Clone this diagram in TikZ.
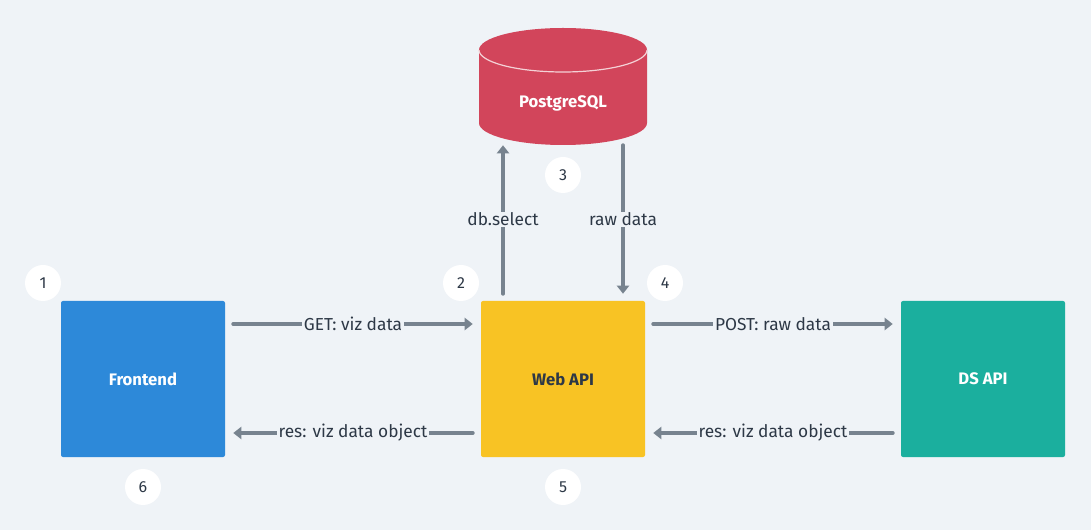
\documentclass[tikz,border=0pt]{standalone}
\usepackage{fontspec}
\setmainfont{Fira Sans}
\usepackage{tikz}
\usetikzlibrary{arrows.meta,positioning,calc}

\definecolor{bgcol}{HTML}{EFF3F7}
\definecolor{frontcol}{HTML}{2D89D9}
\definecolor{webcol}{HTML}{F8C324}
\definecolor{dscol}{HTML}{1BAF9E}
\definecolor{pgcol}{HTML}{D2455B}
\definecolor{arrcol}{HTML}{77838F}
\definecolor{txtcol}{HTML}{2D3846}

\tikzset{
    service/.style={rectangle, rounded corners=1.5pt, minimum width=123pt, minimum height=117pt,
        inner sep=0pt, font=\fontsize{12.5}{15}\selectfont\bfseries},
    stepnum/.style={circle, fill=white, minimum size=27pt, inner sep=0pt,
        text=txtcol, font=\fontsize{12}{14}\selectfont},
    flow/.style={draw=arrcol, line width=3pt, line cap=round,
        -{Triangle[length=6pt,width=9pt]}},
    flowlabel/.style={fill=bgcol, inner xsep=1.5pt, inner ysep=1pt, text=txtcol,
        font=\fontsize{13}{15}\selectfont},
}

\begin{document}
\begin{tikzpicture}[x=0.75pt,y=-0.75pt]
    \fill[bgcol] (0,0) rectangle (1091,530);
    \useasboundingbox (0,0) rectangle (1091,530);

    % services
    \node[service, fill=frontcol, text=white] (front) at (143,379) {Frontend};
    \node[service, fill=webcol, text=txtcol] (web) at (563,379) {Web API};
    \node[service, fill=dscol, text=white] (ds) at (983,379) {DS API};

    % database
    \node[minimum width=126pt, minimum height=87.75pt, inner sep=0pt] (pg) at (563,86.5) {};
    \fill[pgcol] (479,50) -- (479,123) arc[start angle=180, end angle=0, x radius=84, y radius=22]
        -- (647,50) arc[start angle=0, end angle=-180, x radius=84, y radius=22] -- cycle;
    \draw[white!75!pgcol, line width=0.9pt] (479,50) arc[start angle=180, end angle=0, x radius=84, y radius=22];
    \node[text=white, font=\fontsize{12.5}{15}\selectfont\bfseries] (pglabel) at (563,103) {PostgreSQL};

    \coordinate (selA) at ($(web.north)+(-60,-7)$);
    \coordinate (selB) at ($(pg.south)+(-60,0)$);
    \coordinate (rawA) at ($(pg.south)+(60,0)$);
    \coordinate (rawB) at ($(web.north)+(60,-7)$);

    % connectors
    \draw[flow] (selA) -- node[flowlabel] {db.select} (selB);
    \draw[flow] (rawA) -- node[flowlabel] {raw data} (rawB);
    \draw[flow, shorten <=6pt, shorten >=6pt] ($(front.east)+(0,-55)$) -- node[flowlabel] {GET: viz data} ($(web.west)+(0,-55)$);
    \draw[flow, shorten <=6pt, shorten >=6pt] ($(web.east)+(0,-55)$) -- node[flowlabel] {POST: raw data} ($(ds.west)+(0,-55)$);
    \draw[flow, shorten <=6pt, shorten >=6pt] ($(ds.west)+(0,54)$) -- node[flowlabel] {res: viz data object} ($(web.east)+(0,54)$);
    \draw[flow, shorten <=6pt, shorten >=6pt] ($(web.west)+(0,54)$) -- node[flowlabel] {res: viz data object} ($(front.east)+(0,54)$);

    % step numbers
    \node[stepnum] (s1) at (43,283) {1};
    \node[stepnum] (s2) at (461,283) {2};
    \node[stepnum] (s3) at (563,175) {3};
    \node[stepnum] (s4) at (665,283) {4};
    \node[stepnum] (s5) at (563,487) {5};
    \node[stepnum] (s6) at (143,487) {6};
\end{tikzpicture}
\end{document}
